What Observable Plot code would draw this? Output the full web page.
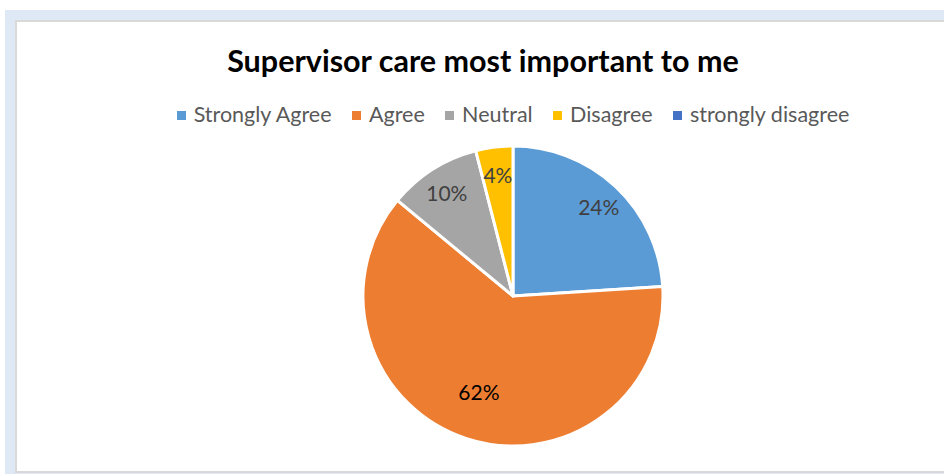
<!DOCTYPE html>
<html>
<head>
<meta charset="utf-8">
<script src="https://cdn.jsdelivr.net/npm/d3@7"></script>
<script src="https://cdn.jsdelivr.net/npm/@observablehq/plot@0.6"></script>
<style>
  html, body { margin: 0; padding: 0; background: #ffffff; width: 944px; height: 474px; overflow: hidden; }
  #outer { position: absolute; left: 5px; top: 10px; right: 0; bottom: 0; background: #dee9f5; }
  #inner { position: absolute; left: 15px; top: 20px; width: 940px; height: 449px; background: #ffffff; border: 2px solid #d9d9d9; }
  #title { position: absolute; left: 16px; width: 934px; top: 42px; text-align: center; font-family: Lato, sans-serif; font-weight: 700; font-size: 30.5px; line-height: 1.2; color: #000; white-space: nowrap; }
  #legend { position: absolute; left: 0; width: 1026px; top: 102px; display: flex; justify-content: center; font-family: Lato, sans-serif; font-size: 21.5px; line-height: 1.2; color: #595959; white-space: nowrap; }
  .item { display: flex; align-items: center; margin: 0 10.2px; }
  .sw { width: 9px; height: 9px; margin-right: 8px; margin-top: 1px; }
  #chart { position: absolute; left: 0; top: 0; }
</style>
</head>
<body>
<div id="outer"></div>
<div id="inner"></div>
<div id="title"></div>
<div id="legend"></div>
<div id="chart"></div>
<script>
const titleText = "Supervisor care most important to me";
const categories = ["Strongly Agree", "Agree", "Neutral", "Disagree", "strongly disagree"];
const shares = [24, 62, 10, 4, 0];
const colors = ["#5B9BD5", "#ED7D31", "#A5A5A5", "#FFC000", "#4472C4"];

document.getElementById("title").textContent = titleText;

const data = categories.map((c, i) => ({category: c, share: shares[i]}));
const arcs = d3.pie().sort(null).value(d => d.share)(data);

// Legend
const legend = document.getElementById("legend");
categories.forEach((c, i) => {
  const item = document.createElement("div");
  item.className = "item";
  const sw = document.createElement("div");
  sw.className = "sw";
  sw.style.background = colors[i];
  const t = document.createElement("span");
  t.textContent = c;
  item.appendChild(sw);
  item.appendChild(t);
  legend.appendChild(item);
});

// label placement (data units, radius = 1)
const labelData = arcs.filter(a => a.data.share > 0).map(a => {
  const mid = (a.startAngle + a.endAngle) / 2;
  const k = a.data.share > 50 ? 0.66 : 0.83;
  return {category: a.data.category, share: a.data.share, lx: Math.sin(mid) * k, ly: Math.cos(mid) * k};
});

const pieMark = (index, scales, values, dimensions, context) => {
  const cx = scales.x(0), cy = scales.y(0);
  const r = scales.x(1) - scales.x(0);
  const color = scales.color || d3.scaleOrdinal(categories, colors);
  const arc = d3.arc().innerRadius(0).outerRadius(r);
  const g = d3.create("svg:g").attr("transform", `translate(${cx},${cy})`);
  g.selectAll("path")
    .data(arcs.filter(a => a.data.share > 0))
    .join("path")
    .attr("d", arc)
    .attr("fill", d => color(d.data.category))
    .attr("stroke", "#ffffff")
    .attr("stroke-width", 3)
    .attr("stroke-linejoin", "round");
  return g.node();
};

const chart = Plot.plot({
  width: 944,
  height: 474,
  margin: 0,
  x: {domain: [-1, 1], range: [363, 663], axis: null},
  y: {domain: [-1, 1], range: [446, 146], axis: null},
  color: {domain: categories, range: colors},
  style: {background: "transparent", fontFamily: "Lato, sans-serif"},
  marks: [
    pieMark,
    Plot.text(labelData.filter(d => d.share <= 50), {
      x: "lx", y: "ly", text: d => d.share + "%", dy: 3,
      fill: "#404040", fontSize: 21, fontFamily: "Lato, sans-serif"
    }),
    Plot.text(labelData.filter(d => d.share > 50), {
      x: "lx", y: "ly", text: d => d.share + "%", dy: 3, dx: -4,
      fill: "#000000", fontSize: 21, fontFamily: "Lato, sans-serif"
    })
  ]
});
document.getElementById("chart").appendChild(chart);
</script>
</body>
</html>
